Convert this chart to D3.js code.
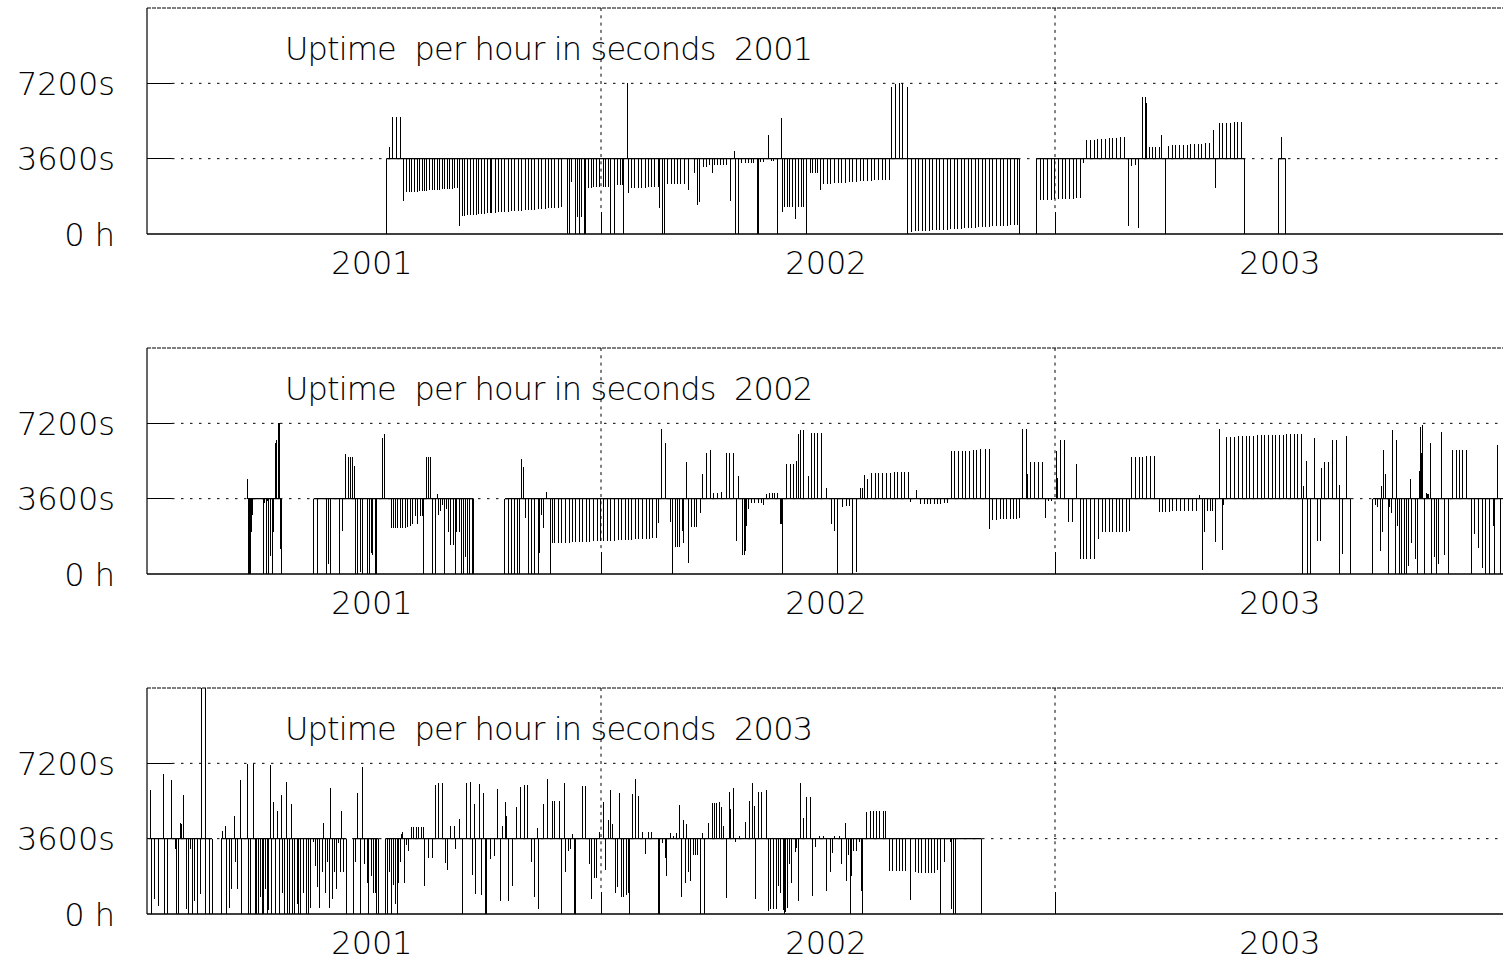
<!DOCTYPE html>
<html>
<head>
<meta charset="utf-8">
<script src="https://cdn.jsdelivr.net/npm/d3@7"></script>
<style>
  body { margin: 0; background: #fff; }
  text { font-family: "DejaVu Sans", sans-serif; font-weight: 200; fill: #000; }
</style>
</head>
<body>
<div id="vis"></div>
<script>
// x axis is in days counted from 1 July 2000, y axis is seconds of uptime per hour
const yearLabels = ["2001", "2002", "2003"];
const yearLabelDays = [182.5, 547.5, 912.5];
const midYearDays = [365, 730];
const yTickValues = [0, 3600, 7200];
const yTickLabels = ["0 h", "3600s", "7200s"];
const panelYears = ["2001", "2002", "2003"];

// [day, seconds] : each one is drawn as a stroke from the 3600s line
const uptime2001 = [
  [192.4,0],[194.8,4140],[197.5,5580],[200.5,5580],[203.7,5580],[206.4,1590],
  [209.0,1990],[211.0,2000],[213.0,2010],[215.0,2020],[217.1,2030],[219.1,2040],[221.1,2050],[223.1,2060],[225.1,2070],[227.1,2080],
  [229.2,2090],[231.2,2100],[233.2,2110],[235.2,2120],[237.2,2130],[239.2,2140],[241.2,2150],[243.2,2160],[245.3,2165],[247.3,2175],[249.3,2180],
  [251.4,400],
  [253.3,860],[255.5,870],[257.8,885],[260.1,900],[262.4,910],[264.6,925],[266.9,940],[269.2,950],[271.5,965],[273.8,980],[276.0,990],
  [277.1,1000],[279.8,1010],[282.4,1030],[285.1,1040],[287.8,1050],[290.5,1070],[293.2,1080],[295.8,1090],[298.5,1110],[301.2,1120],[303.9,1130],
  [306.6,1150],[309.2,1160],[311.9,1170],[314.6,1190],[317.3,1200],[320.0,1210],[322.6,1230],[325.3,1240],[328.0,1250],[330.7,1260],[333.4,1270],
  [337.9,0],[339.5,0],[341.4,2500],[344.1,0],[346.0,800],[348.1,0],[349.7,800],[351.6,0],[352.9,0],
  [354.8,2180],[357.0,2180],[359.1,2260],[361.2,2260],[363.4,2260],[366.9,2260],[369.0,2260],[370.9,2260],
  [373.0,0],[375.7,0],[378.1,2340],[380.3,2340],[382.1,2340],[383.0,0],[386.4,7200],[387.2,1950],
  [389.6,2180],[392.3,2200],[395.0,2200],[397.7,2200],[400.4,2220],[403.0,2230],[405.7,2230],[408.4,2260],[411.1,2260],[411.9,1240],
  [414.6,0],[416.4,0],[418.6,2370],[421.3,2370],[424.1,2390],[426.6,2390],[429.3,2400],[432.0,2400],[435.2,2100],
  [440.0,2900],[442.4,1390],[443.8,1550],
  [447.8,3220],[450.0,3220],[452.6,3300],[454.5,2900],[456.6,3300],[458.5,3300],[460.7,3300],[463.3,3300],[466.0,3300],[469.2,1590],
  [472.2,3970],[473.3,0],[475.7,0],
  [478.1,3380],[480.8,3380],[483.4,3380],[486.1,3380],[488.0,3380],[490.7,0],[492.0,0],
  [493.6,3420],[495.5,3420],[499.8,4730],[501.7,3500],[503.8,3500],[506.5,0],[510.2,5530],[510.8,1070],
  [512.7,1310],[514.8,1310],[516.9,1310],[519.1,1310],[521.2,700],[523.6,1310],[525.8,1310],[527.9,1310],[530.0,0],
  [533.6,2900],[535.4,2900],[537.3,2900],[539.2,2900],[541.3,2100],
  [543.8,2370],[546.7,2380],[549.7,2400],[552.6,2420],[555.6,2430],[558.5,2450],[561.5,2460],[564.4,2480],[567.4,2490],[570.3,2500],
  [573.3,2510],[576.2,2520],[579.2,2540],[582.1,2550],[585.1,2560],[588.0,2570],[591.0,2580],[593.9,2590],[596.8,2600],
  [598.5,7010],[601.7,7170],[604.6,7200],[607.6,7200],[611.3,0],[611.8,7010],
  [614.8,110],[617.6,120],[620.5,130],[623.3,140],[626.2,150],[629.0,160],[631.8,175],[634.7,185],[637.5,195],[640.4,205],[643.2,215],
  [646.0,230],[648.9,240],[651.7,250],[654.6,260],[657.4,270],[660.3,285],[663.1,295],[665.9,305],[668.8,315],[671.6,325],[674.5,340],
  [677.3,350],[680.1,360],[683.0,370],[685.8,380],[688.7,395],[691.5,405],[694.3,420],[697.2,430],[699.8,445],[701.1,0],
  [715.3,0],
  [718.0,1620],[720.9,1630],[723.9,1630],[726.8,1640],[729.8,1650],[732.7,1660],[735.7,1660],[738.6,1670],[741.6,1680],[744.5,1690],[747.5,1700],[750.4,1700],
  [752.8,3380],
  [755.5,4490],[758.5,4490],[761.4,4510],[764.3,4520],[767.6,4540],[770.5,4560],[773.5,4570],[776.4,4590],[779.4,4600],[782.3,4620],[785.5,4650],
  [789.0,380],[791.7,3250],[794.4,3300],[797.0,300],[800.3,6560],[803.0,6560],[803.5,6240],
  [805.9,4170],[808.6,4170],[811.2,4170],[813.9,4170],[815.3,4730],[818.5,0],
  [821.2,4220],[824.1,4240],[827.1,4250],[830.0,4250],[833.3,4260],[836.2,4270],[839.2,4280],[842.1,4290],[845.1,4300],[848.0,4320],[851.2,4350],[854.2,4330],
  [857.4,4970],[859.0,2210],
  [861.9,5290],[864.9,5320],[867.8,5320],[870.8,5320],[874.0,5350],[877.0,5350],[880.2,5350],[882.3,0],
  [909.4,0],[912.3,4650],[915.5,0]
];
const runs2001 = [[192.4,701.1],[715.3,882.3],[909.4,915.5]];

const uptime2002 = [
  [81.2,4530],[81.8,0],[82.5,0],[83.4,0],[84.0,2000],[85.2,2830],
  [93.3,0],[93.8,3100],[94.6,3400],[95.7,0],[96.5,3500],[97.8,0],[99.2,880],[100.5,0],[102.0,2000],[103.2,6280],[104.5,6400],[105.8,7200],[106.6,7200],[107.2,1190],[108.0,0],
  [134.0,0],[137.2,0],[144.7,0],[146.1,500],[147.4,0],[154.6,0],[157.0,2040],
  [159.2,5730],[161.9,5580],[164.0,5580],[165.6,5580],[166.7,5150],[168.0,0],
  [169.4,0],[171.5,100],[172.9,0],[177.4,0],[178.8,0],[180.1,1000],[181.4,900],[183.6,0],[184.9,0],
  [189.7,6500],[191.1,6700],
  [196.2,2190],[197.8,2190],[199.7,2200],[201.5,2200],[203.7,2210],[205.6,2210],[207.7,2220],[209.6,2230],[211.7,2270],[213.6,2380],[215.7,2780],[217.6,2380],[219.8,2780],[221.1,2780],
  [221.9,0],[224.6,5580],[226.5,5580],[227.8,5580],[229.9,0],[231.8,0],
  [233.7,3800],[234.5,2800],[235.8,3000],[237.7,3300],[239.3,0],[240.7,3100],[242.5,2000],[244.4,1400],[246.6,1400],[247.9,0],
  [249.2,2000],[251.1,2000],[252.7,0],[254.6,0],[255.9,800],[257.3,0],[259.4,0],[261.3,0],[262.6,0],
  [287.8,0],[290.5,0],[293.2,0],[295.8,0],[298.0,0],[299.3,0],[301.2,5490],[302.5,5090],[303.9,2700],[306.6,0],[309.2,0],[311.9,0],[314.6,0],[315.4,1000],[317.3,2800],[318.6,2200],
  [321.3,3900],[324.8,0],[326.1,1500],
  [328.0,1460],[330.8,1470],[333.6,1480],[336.4,1490],[339.3,1500],[342.1,1510],[344.9,1510],[347.7,1520],[350.5,1530],[353.3,1540],[356.1,1550],
  [359.0,1560],[361.8,1560],[364.6,1570],[367.4,1580],[370.2,1590],[373.0,1590],[375.8,1600],[378.7,1610],[381.5,1620],[384.3,1630],[387.1,1630],
  [389.9,1640],[392.7,1650],[395.5,1660],[398.4,1670],[401.2,1680],[404.0,1690],[406.8,1700],[409.6,1710],[411.6,2460],
  [414.0,6950],[417.0,6280],
  [421.0,2500],[422.6,0],[424.5,1270],[426.4,1270],[428.5,1270],[430.4,2060],[431.7,1500],[433.9,5330],[435.2,510],[437.9,2230],[440.5,2230],[441.9,2230],[444.6,2900],
  [446.7,4770],[449.9,5760],[453.2,5910],[455.3,3850],[458.5,3850],[462.0,3940],[466.0,5800],[468.7,5800],[471.9,5800],
  [474.1,1580],[475.7,4690],[478.6,900],[480.0,900],[481.3,1100],[482.1,2300],[483.4,3100],
  [486.1,3370],[488.8,3370],[491.5,3400],[494.2,3400],[495.5,3300],
  [498.2,3800],[500.3,3850],[502.5,3850],[504.6,3850],[506.8,3850],[509.4,2400],[510.2,2400],[511.0,0],
  [514.3,5250],[517.0,5250],[519.6,5250],[521.8,5400],[523.6,6700],[525.5,6880],[528.2,6880],[531.7,4690],[534.4,6720],[536.5,6750],[539.2,6750],[542.4,6750],[546.4,4130],
  [550.0,2390],[552.9,2040],[555.3,0],[559.3,3180],[562.0,3250],[564.7,3250],[567.4,0],[570.6,100],
  [573.8,4130],[575.1,4100],[576.7,4720],[579.4,4530],[582.6,4830],[585.3,4850],[588.3,4850],[591.5,4850],[594.7,4850],[597.4,4850],[600.6,4860],[603.5,4860],[606.5,4880],[609.4,4880],[612.4,4880],[613.5,3450],
  [618.8,4000],
  [622.0,3350],[624.7,3350],[627.4,3350],[630.1,3350],[632.8,3350],[635.4,3350],[638.1,3350],[640.8,3400],[643.5,3400],
  [647.0,5880],[649.6,5880],[652.3,5900],[655.5,5900],[658.2,5900],[661.4,5900],[664.4,5920],[667.1,5920],[670.3,5950],[673.8,5950],[677.0,5990],[677.3,2150],
  [679.9,2580],[682.6,2600],[685.8,2640],[688.5,2640],[691.2,2640],[693.9,2640],[696.5,2640],[699.2,2640],[701.4,2700],
  [704.0,6950],[707.3,6950],[707.8,4800],[710.5,5360],[713.4,5360],[716.6,5360],[719.9,5360],
  [722.0,2700],[724.5,3480],[727.2,3480],[730.9,5880],[732.0,4600],[734.6,6400],[737.5,6400],[741.0,2500],[744.0,2500],[747.5,5250],
  [750.1,720],[752.8,720],[755.5,720],[758.2,720],[761.7,720],[764.9,1670],
  [768.4,2020],[771.0,2020],[773.7,2020],[776.4,2020],[779.1,2020],[781.8,2020],[784.5,2020],[787.1,2020],[789.8,2060],
  [791.7,5610],[794.9,5610],[797.6,5610],[800.5,5610],[803.2,5630],[806.4,5630],[809.6,5630],
  [813.7,2970],[816.3,2970],[819.0,2970],[821.7,2970],
  [824.7,3020],[827.9,3020],[831.1,3020],[834.1,3020],[837.3,3020],[840.5,3020],[843.4,3020],[845.9,3770],
  [848.5,210],[849.9,2020],[852.8,3000],[854.7,3000],[856.6,3000],[858.7,1540],[862.2,6950],[864.9,1160],[865.7,3300],
  [868.1,6570],[871.3,6570],[874.5,6570],[877.7,6580],[880.4,6600],[883.6,6600],[886.3,6600],[889.5,6600],[892.8,6630],[895.7,6630],[898.7,6630],
  [901.6,6630],[904.5,6630],[907.5,6630],[910.4,6630],[913.4,6650],[916.3,6700],[919.3,6700],[922.2,6700],[925.2,6700],[928.4,6700],
  [929.2,0],[929.7,4200],[932.4,5400],[933.0,0],[935.1,0],[938.3,6490],
  [941.3,1590],[943.1,1590],[944.5,5050],[946.6,5370],[949.8,5370],[953.3,6390],[956.0,6390],[958.7,0],[958.9,4260],[960.8,950],[964.3,6600],[967.8,0],
  [985.5,0],[987.4,3300],[989.2,3200],[991.9,1110],[992.1,4210],[993.5,1990],[993.8,5910],[995.4,4800],[997.8,0],[998.9,3200],[1000.8,2900],[1001.3,6880],
  [1003.4,0],[1004.8,6400],[1005.3,2300],[1006.9,0],[1008.8,0],[1010.7,0],[1012.8,0],[1014.2,400],[1016.0,4560],[1016.8,1500],[1019.5,700],[1021.4,0],
  [1023.0,4930],[1023.5,7040],[1024.9,5800],[1025.7,7120],[1026.8,0],[1028.4,3850],[1029.5,3800],[1030.5,3800],[1032.1,6280],[1032.9,0],[1034.8,800],
  [1036.9,0],[1038.3,500],[1040.4,6800],[1042.8,900],[1046.3,0],
  [1049.8,5910],[1052.5,5910],[1055.2,5910],[1057.8,5910],[1060.5,5910],
  [1064.5,0],[1067.2,1900],[1070.4,1220],[1073.7,300],[1076.3,0],[1079.3,0],[1082.5,2300],[1083.3,0],[1086.0,6150],[1087.9,0]
];
const runs2002 = [[81.2,108.0],[134.0,262.6],[287.8,967.8],[985.5,1095]];

const uptime2003 = [
  [3.2,5930],[4.0,0],[5.9,720],[9.6,400],[13.4,6680],[13.9,0],[16.6,0],[19.3,6390],[22.8,3100],[24.1,0],[25.5,0],[26.8,4330],[27.6,4300],[29.5,5680],
  [31.6,250],[33.5,0],[34.8,3100],[36.7,0],[38.3,640],[40.2,0],[42.9,950],[44.2,11500],[46.9,11500],[47.2,0],[50.4,0],[52.3,0],
  [59.5,0],[61.1,3980],[63.0,4210],[64.3,0],[66.5,300],[68.3,1200],[70.2,4660],[71.0,2500],[72.4,1200],[75.0,6390],[75.6,0],[80.4,7190],[81.7,0],[83.1,0],
  [85.8,7190],[87.1,0],[88.4,0],[89.8,0],[91.1,800],[92.5,0],[93.8,0],[95.1,1200],[96.5,0],[97.8,200],[99.2,7120],[99.7,0],[101.3,5360],[103.2,0],
  [105.1,4900],[106.7,0],[108.0,5690],[109.1,1000],[110.4,0],[111.8,6330],[113.1,0],[114.4,0],[115.8,5250],[117.1,0],[118.7,0],[120.6,500],[121.9,0],
  [123.8,0],[126.0,1000],[128.1,0],[130.0,0],[131.3,300],
  [134.0,3450],[135.3,2300],[137.2,1300],[138.8,300],[140.7,2000],[142.3,4340],[143.9,1000],[145.5,2500],[146.9,300],[147.4,6010],[149.0,700],
  [150.6,2000],[152.2,1200],[154.1,3400],[155.4,2000],[156.5,4900],[158.1,2000],[160.3,0],
  [166.2,0],[167.5,2470],[169.6,5800],[171.5,0],[173.4,7040],[174.7,2400],[176.9,1500],[178.2,0],[180.1,1800],[182.2,1000],[183.6,1000],[184.9,0],[186.3,0],
  [191.6,0],[193.0,0],[194.8,2000],[196.2,0],[198.3,1400],[199.7,500],[201.0,0],[202.3,1500],[203.7,2500],[205.0,3800],[205.8,3900],[206.9,1500],[209.0,3300],[210.4,3000],
  [212.5,4180],[214.4,4180],[216.5,4180],[218.4,4180],[220.3,4180],[221.9,4180],
  [223.5,1350],[226.7,2700],[229.7,2700],[231.6,6150],[234.2,6280],[237.5,6280],[239.6,2420],[241.7,2100],[244.2,4210],[247.1,4210],[248.2,3100],[251.1,4530],
  [253.5,0],[256.5,6280],[259.7,6330],[261.8,1870],[263.2,5250],[264.5,950],[267.2,6200],[269.1,900],[270.4,5800],[271.8,0],[273.1,0],[275.8,2620],[279.0,2780],
  [281.9,5960],[284.4,640],[286.0,4210],[288.6,5330],[289.2,4690],[290.5,640],[293.7,1350],[297.2,5090],[300.4,6090],[303.1,6150],[305.8,6150],
  [309.3,2470],[311.9,800],[313.8,4130],[314.6,240],[318.7,5250],[322.1,6470],[325.9,5410],[328.0,5410],[331.5,5410],[333.4,0],[335.5,6280],[336.1,2030],
  [338.8,3000],[340.6,3100],[342.2,3820],[343.3,0],[344.7,0],[350.0,6120],[352.7,6120],[355.4,2400],[357.0,700],[359.4,1700],[361.0,1700],[363.7,3900],
  [366.9,5330],[369.0,2100],[370.9,4480],[372.8,5910],[374.1,4300],[376.3,1000],[378.2,1300],[379.8,5760],[381.1,800],[383.0,800],[385.1,900],[387.0,1000],[387.8,0],
  [390.2,5720],[392.4,6440],[395.0,5650],[398.3,3900],[400.4,2860],[403.1,3900],[405.8,3900],[411.1,0],[411.9,0],
  [414.3,3400],[416.5,2700],[417.8,1800],[420.5,3850],[423.2,3750],[425.9,3850],[428.0,5200],[429.9,800],[431.2,4480],[432.6,1500],[433.9,4290],
  [435.2,2000],[436.6,1600],[439.3,2800],[441.1,2800],[442.7,2800],[444.6,0],[446.8,3850],[448.6,0],[451.3,4370],
  [454.5,5290],[456.4,5300],[458.0,5300],[459.9,5330],[461.5,5130],[463.4,4210],[466.0,750],[468.2,5850],[469.3,5010],[471.4,6010],[473.5,3450],[476.2,3750],
  [481.3,4420],[484.3,5410],[487.0,6250],[488.8,5140],[489.0,720],[491.8,5850],[494.4,5850],[498.2,5910],
  [499.5,130],[501.4,240],[503.6,240],[505.7,240],[507.8,1350],[509.7,1000],[511.6,200],[512.9,0],[513.7,100],[514.8,300],[516.4,2400],[518.3,1500],
  [521.0,2960],[522.3,3170],[523.7,640],
  [525.0,6250],[527.7,4610],[530.4,5570],[533.6,5570],[535.2,880],[537.6,3180],[540.5,3750],[543.8,3750],[546.4,1110],[549.7,2020],[551.0,2900],
  [553.1,3750],[556.6,3750],[558.0,2400],[561.2,4370],[562.0,1590],[563.9,2800],[565.2,0],[566.5,1800],[567.9,3000],[570.6,3000],[573.2,3450],[574.6,1110],[575.4,0],
  [578.6,4880],[581.3,4900],[584.0,4900],[586.6,4900],[589.3,4900],[592.0,4930],[594.1,4930],
  [596.8,2070],[599.5,2070],[602.2,2070],[604.9,2070],[607.5,2070],[610.2,2070],[614.0,670],[617.5,2020],[620.1,1940],[622.8,1940],[625.5,1940],
  [628.2,1940],[630.9,1940],[633.5,1940],[635.7,2100],[638.1,0],[641.0,2470],[646.1,3450],[646.9,240],[648.3,0],[650.4,0],[671.1,0]
];
const runs2003 = [[1.0,52.3],[59.5,160.3],[166.2,186.3],[191.6,671.1]];

const panels = [
  {year: panelYears[0], points: uptime2001, runs: runs2001},
  {year: panelYears[1], points: uptime2002, runs: runs2002},
  {year: panelYears[2], points: uptime2003, runs: runs2003}
];

const margin = {top: 8, left: 147};
const plotW = 1362, plotH = 226, panelStep = 340;
const baseline = 3600;

const svg = d3.select("#vis").append("svg")
    .attr("width", 1503)
    .attr("height", 962)
    .style("background", "#fff");

const x = d3.scaleLinear().domain([0, 1095]).range([margin.left, margin.left + plotW]);
const y = d3.scaleLinear().domain([0, 10800]).range([plotH, 0]);

svg.append("clipPath").attr("id", "plotclip")
  .append("rect")
    .attr("x", margin.left).attr("y", 0)
    .attr("width", plotW).attr("height", plotH);

panels.forEach(function (p, i) {
  const g = svg.append("g").attr("transform", "translate(0," + (margin.top + i * panelStep) + ")");

  // dotted grid
  g.selectAll(".hgrid").data(yTickValues.slice(1)).enter().append("line")
      .attr("x1", margin.left + 25).attr("x2", margin.left + plotW)
      .attr("y1", d => y(d)).attr("y2", d => y(d))
      .attr("stroke", "#000").attr("stroke-width", 1)
      .attr("stroke-dasharray", "2.5,6.5");
  g.selectAll(".vgrid").data(midYearDays).enter().append("line")
      .attr("x1", d => x(d)).attr("x2", d => x(d))
      .attr("y1", 0).attr("y2", plotH - 22)
      .attr("stroke", "#000").attr("stroke-width", 1)
      .attr("stroke-dasharray", "3,4.3");

  // tick marks
  g.selectAll(".ytick").data(yTickValues.slice(1)).enter().append("line")
      .attr("x1", margin.left).attr("x2", margin.left + 25)
      .attr("y1", d => y(d)).attr("y2", d => y(d))
      .attr("stroke", "#000").attr("shape-rendering", "crispEdges");
  g.selectAll(".xtick").data(midYearDays).enter().append("line")
      .attr("x1", d => x(d)).attr("x2", d => x(d))
      .attr("y1", plotH - 22).attr("y2", plotH)
      .attr("stroke", "#000").attr("shape-rendering", "crispEdges");

  // frame
  g.append("line").attr("x1", margin.left).attr("x2", margin.left).attr("y1", 0).attr("y2", plotH)
      .attr("stroke", "#000").attr("stroke-width", 1.2);
  g.append("line").attr("x1", margin.left).attr("x2", margin.left + plotW).attr("y1", 0).attr("y2", 0)
      .attr("stroke", "#000").attr("stroke-width", 1.2).attr("stroke-dasharray", "4,1");
  g.append("line").attr("x1", margin.left).attr("x2", margin.left + plotW).attr("y1", plotH).attr("y2", plotH)
      .attr("stroke", "#000").attr("stroke-width", 1.5);

  const data = g.append("g").attr("clip-path", "url(#plotclip)");

  // solid 3600s line where the series has data
  data.selectAll(".run").data(p.runs).enter().append("line")
      .attr("x1", d => x(d[0])).attr("x2", d => x(d[1]))
      .attr("y1", y(baseline)).attr("y2", y(baseline))
      .attr("stroke", "#000").attr("stroke-width", 1.3);

  // one stroke per sample, from 3600s to the value
  data.selectAll(".spike").data(p.points).enter().append("line")
      .attr("x1", d => x(d[0])).attr("x2", d => x(d[0]))
      .attr("y1", y(baseline)).attr("y2", d => y(d[1]))
      .attr("stroke", "#000").attr("stroke-width", 1)
      .attr("shape-rendering", "crispEdges");

  // labels
  g.selectAll(".ylab").data(yTickValues).enter().append("text")
      .attr("x", 115).attr("y", d => y(d) + 11.5)
      .attr("text-anchor", "end")
      .style("font-size", "32px")
      .style("white-space", "pre")
      .text((d, k) => yTickLabels[k]);
  g.selectAll(".xlab").data(yearLabelDays).enter().append("text")
      .attr("x", d => x(d) - 2).attr("y", plotH + 40)
      .attr("text-anchor", "middle")
      .style("font-size", "32px")
      .text((d, k) => yearLabels[k]);
  g.append("text")
      .attr("x", margin.left + 138).attr("y", 52)
      .style("font-size", "32px")
      .style("white-space", "pre")
      .attr("textLength", 528).attr("lengthAdjust", "spacing")
      .text("Uptime  per hour in seconds  " + p.year);
});
</script>
</body>
</html>
